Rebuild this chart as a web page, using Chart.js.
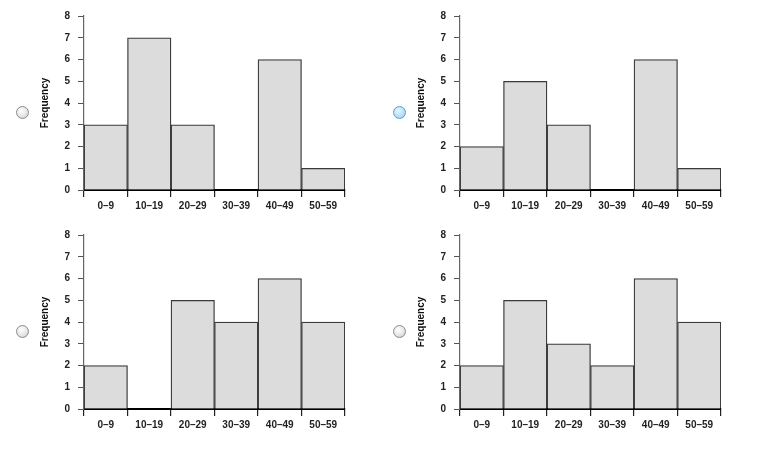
<!DOCTYPE html>
<html>
<head>
<meta charset="utf-8">
<script src="https://cdn.jsdelivr.net/npm/chart.js@4.4.1/dist/chart.umd.min.js"></script>
<style>
  body { margin: 0; background: #fff; width: 767px; height: 452px; position: relative; overflow: hidden; }
  .box { position: absolute; width: 330px; height: 220px; }
  .radio { position: absolute; width: 11px; height: 11px; border-radius: 50%;
           border: 1px solid #8c8c8c;
           background: radial-gradient(circle at 40% 35%, #ffffff 0%, #e6e6e6 55%, #c4c4c4 100%); }
  .radio.on { border-color: #5a9fd0;
           background: radial-gradient(circle at 40% 35%, #eaf6ff 0%, #b9e0fa 55%, #8cc8ef 100%); }
</style>
</head>
<body>
<div class="radio" style="left:16px;top:106px"></div>
<div class="radio on" style="left:393px;top:106px"></div>
<div class="radio" style="left:16px;top:325px"></div>
<div class="radio" style="left:393px;top:325px"></div>

<div class="box" style="left:30px;top:0px"><canvas id="chartA"></canvas></div>
<div class="box" style="left:406px;top:0px"><canvas id="chartB"></canvas></div>
<div class="box" style="left:30px;top:219px"><canvas id="chartC"></canvas></div>
<div class="box" style="left:406px;top:219px"><canvas id="chartD"></canvas></div>

<script>
const bins = ["0–9", "10–19", "20–29", "30–39", "40–49", "50–59"];
const freqA = [3, 7, 3, 0, 6, 1];
const freqB = [2, 5, 3, 0, 6, 1];
const freqC = [2, 0, 5, 4, 6, 4];
const freqD = [2, 5, 3, 2, 6, 4];
const yTicks = [0, 1, 2, 3, 4, 5, 6, 7, 8];

const tickFont = { family: "Arial, 'Liberation Sans', sans-serif", size: 10, weight: "bold" };

function histogram(id, values) {
  const ctx = document.getElementById(id).getContext("2d");
  new Chart(ctx, {
    type: "bar",
    data: {
      labels: bins,
      datasets: [{
        label: "Frequency",
        data: values,
        backgroundColor: "#dcdcdc",
        borderColor: "#3a3a3a",
        borderWidth: 1.3,
        borderSkipped: "bottom",
        categoryPercentage: 1,
        barPercentage: 1
      }]
    },
    options: {
      responsive: true,
      maintainAspectRatio: false,
      animation: false,
      layout: { padding: { top: 16, right: 15, left: 0, bottom: 0 } },
      plugins: { legend: { display: false }, tooltip: { enabled: false } },
      scales: {
        x: {
          grid: { drawOnChartArea: false, tickLength: 7, color: "#222", lineWidth: 1.2 },
          border: { color: "#000", width: 2 },
          ticks: { color: "#222", font: tickFont, padding: 3, maxRotation: 0 },
          afterFit: (scale) => { scale.height = 30; }
        },
        y: {
          min: 0,
          max: 8,
          afterBuildTicks: (scale) => { scale.ticks = yTicks.map(v => ({ value: v })); },
          grid: { drawOnChartArea: false, tickLength: 6, color: "#555" },
          border: { color: "#666", width: 1.2 },
          ticks: { color: "#222", font: tickFont, padding: 8 },
          title: {
            display: true,
            text: "Frequency",
            color: "#111",
            font: { family: "Arial, 'Liberation Sans', sans-serif", size: 10, weight: "bold" },
            padding: { top: 9, bottom: 0 }
          },
          afterFit: (scale) => { scale.width = 54; }
        }
      }
    }
  });
}

histogram("chartA", freqA);
histogram("chartB", freqB);
histogram("chartC", freqC);
histogram("chartD", freqD);
</script>
</body>
</html>
